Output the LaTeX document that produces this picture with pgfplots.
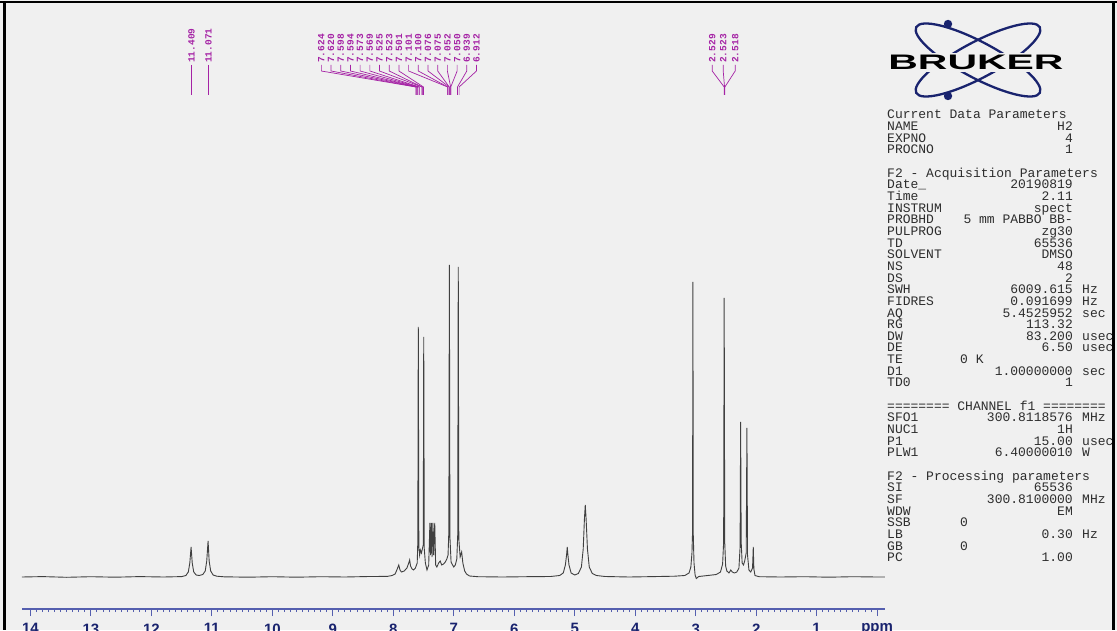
\documentclass[border=0pt]{standalone}
\usepackage{fontspec}
\setmainfont{Liberation Sans}
\newfontfamily\monofont{Liberation Mono}
\usepackage{pgfplots}
\usepackage{pgfplotstable}
\pgfplotsset{compat=1.18}
\definecolor{bg}{RGB}{240,240,240}
\definecolor{navy}{RGB}{25,35,110}
\definecolor{axblue}{RGB}{85,95,175}
\definecolor{labpurple}{RGB}{165,35,165}
\definecolor{partext}{RGB}{45,45,45}

\pgfplotstableread{
ppm h
14.14 0
13.80 0.4
13.40 -0.3
13.00 0.3
12.60 -0.2
12.20 0.4
11.80 0
11.50 0.4
11.43 1.5
11.39 5
11.365 14
11.344 30
11.325 14
11.30 5
11.26 2
11.21 1.5
11.15 2.5
11.11 6
11.085 16
11.063 36
11.045 16
11.02 6
10.98 2
10.92 0.8
10.80 0.2
10.40 -0.2
10.00 0.3
9.60 -0.2
9.20 0.3
8.80 0
8.40 0.5
8.10 0.6
8.02 1.5
7.97 3
7.935 8
7.91 12
7.89 7
7.865 5
7.82 6
7.775 9
7.745 14
7.73 17
7.715 11
7.69 8
7.665 7
7.635 9
7.605 14
7.595 35
7.587 250
7.578 30
7.565 22
7.553 27
7.535 24
7.505 32
7.497 240
7.488 28
7.47 14
7.443 7
7.415 12
7.395 54
7.385 22
7.372 54
7.36 20
7.345 54
7.333 22
7.315 54
7.30 12
7.28 10
7.25 14
7.225 16
7.20 12
7.17 13
7.14 15
7.115 18
7.095 22
7.082 45
7.073 312
7.064 40
7.045 15
7.02 12
7.00 10
6.975 12
6.95 18
6.935 42
6.926 310
6.917 38
6.895 20
6.87 25
6.85 14
6.82 6
6.79 3
6.74 1
6.60 0.3
6.20 0
5.80 0.3
5.40 0.5
5.25 1.5
5.19 4
5.155 12
5.135 22
5.124 30
5.113 22
5.095 12
5.06 4
5.00 2
4.94 3.5
4.89 10
4.86 28
4.84 58
4.826 72
4.812 58
4.79 28
4.76 10
4.71 3.5
4.64 1.5
4.50 0.5
4.10 0
3.70 0.4
3.35 0.8
3.18 1.5
3.11 4
3.08 10
3.062 24
3.052 45
3.046 295
3.040 42
3.028 14
3.01 2
2.99 -1.5
2.95 0.5
2.80 1.5
2.66 2.5
2.59 5
2.555 13
2.538 35
2.529 279
2.520 35
2.505 11
2.485 6
2.45 4
2.42 7
2.395 5
2.36 4
2.32 5
2.285 9
2.266 30
2.257 155
2.248 35
2.232 14
2.21 12
2.19 16
2.165 24
2.153 149
2.143 22
2.12 7
2.09 5
2.06 9
2.048 30
2.038 8
2.02 1.5
1.95 0.3
1.60 0
1.20 0.3
0.80 -0.2
0.40 0.3
0.00 0
-0.13 0
}\spectrum

\newcommand{\pk}[3]{%
  \draw[labpurple,line width=0.7pt] (axis cs:#1,512)--(axis cs:#1,506)--(axis cs:#2,490)--(axis cs:#2,482);
  \node[rotate=90,anchor=west,inner sep=0pt,text=labpurple,font=\monofont\bfseries\fontsize{9.5}{9.5}\selectfont] at (axis cs:#1,514) {#3};%
}

\begin{document}
\begin{tikzpicture}
\path[use as bounding box] (0pt,0pt) rectangle (1117pt,630pt);
\clip (0pt,0pt) rectangle (1117pt,630pt);
\fill[bg] (0pt,0pt) rectangle (1117pt,630pt);
\begin{axis}[
  at={(22pt,21pt)}, anchor=south west,
  scale only axis, width=863pt, height=354pt,
  xmin=-0.13, xmax=14.14, ymin=-32, ymax=322,
  x dir=reverse,
  axis x line=bottom, axis y line=none,
  x axis line style={-, axblue, line width=1.2pt},
  clip=false,
  xtick={0,1,2,3,4,5,6,7,8,9,10,11,12,13,14},
  xticklabels={ppm,1,2,3,4,5,6,7,8,9,10,11,12,13,14},
  minor x tick num=9,
  tick align=outside,
  major tick length=7pt, minor tick length=3pt,
  every tick/.style={axblue, line width=1pt},
  xticklabel style={font=\bfseries\fontsize{15}{15}\selectfont, text=navy, anchor=north, yshift=-4pt},
]
\addplot[black!75, line width=0.9pt] table[x=ppm,y=h] {\spectrum};
\pk{11.339}{11.339}{11.409}
\pk{11.058}{11.058}{11.071}
\pk{9.190}{7.624}{7.624}
\pk{9.030}{7.620}{7.620}
\pk{8.869}{7.598}{7.598}
\pk{8.709}{7.594}{7.594}
\pk{8.549}{7.573}{7.573}
\pk{8.388}{7.569}{7.569}
\pk{8.228}{7.525}{7.525}
\pk{8.068}{7.523}{7.523}
\pk{7.907}{7.501}{7.501}
\pk{7.747}{7.101}{7.101}
\pk{7.587}{7.100}{7.100}
\pk{7.426}{7.076}{7.076}
\pk{7.266}{7.075}{7.075}
\pk{7.106}{7.052}{7.052}
\pk{6.945}{7.050}{7.050}
\pk{6.785}{6.939}{6.939}
\pk{6.625}{6.912}{6.912}
\pk{2.727}{2.529}{2.529}
\pk{2.545}{2.523}{2.523}
\pk{2.347}{2.518}{2.518}
\end{axis}
\begin{scope}[x=1pt,y=1pt]
  % Bruker logo
  \draw[navy, line width=2.3pt, rotate around={-28:(978,570)}] (978,570) ellipse [x radius=70, y radius=18];
  \draw[navy, line width=2.3pt, rotate around={28:(978,570)}] (978,570) ellipse [x radius=70, y radius=18];
  \fill[navy] (948,606) circle (4.2);
  \fill[navy] (948,534) circle (4.2);
  \node[fill=bg, inner xsep=2pt, inner ysep=2pt, xscale=1.95, font=\bfseries\fontsize{21}{21}\selectfont] at (976,567.5) {BRUKER};
  % parameters
  \tikzset{ptx/.style={inner sep=0pt, text=partext, font=\monofont\fontsize{13}{13}\selectfont}}
  \foreach \i/\t in {0/Current Data Parameters, 5/F2 - Acquisition Parameters, 25/======== CHANNEL f1 ========, 31/F2 - Processing parameters}{
    \node[ptx, anchor=base west] at (887, {630-118.8-11.66*\i}) {\t};
  }
  \foreach \i/\a/\b/\c in {1/NAME/H2/{}, 2/EXPNO/4/{}, 3/PROCNO/1/{},
     6/Date\_/20190819/{}, 7/Time/2.11/{}, 8/INSTRUM/spect/{}, 9/PROBHD/5 mm PABBO BB-/{},
     10/PULPROG/zg30/{}, 11/TD/65536/{}, 12/SOLVENT/DMSO/{}, 13/NS/48/{}, 14/DS/2/{},
     15/SWH/6009.615/Hz, 16/FIDRES/0.091699/Hz, 17/AQ/5.4525952/sec, 18/RG/113.32/{},
     19/DW/83.200/usec, 20/DE/6.50/usec, 21/TE/{}/{}, 22/D1/1.00000000/sec, 23/TD0/1/{},
     26/SFO1/300.8118576/MHz, 27/NUC1/1H/{}, 28/P1/15.00/usec, 29/PLW1/6.40000010/W,
     32/SI/65536/{}, 33/SF/300.8100000/MHz, 34/WDW/EM/{}, 35/SSB/{}/{}, 36/LB/0.30/Hz,
     37/GB/{}/{}, 38/PC/1.00/{}}{
    \node[ptx, anchor=base west] at (887, {630-118.8-11.66*\i}) {\a};
    \node[ptx, anchor=base east] at (1073, {630-118.8-11.66*\i}) {\b\strut};
    \node[ptx, anchor=base west] at (1082, {630-118.8-11.66*\i}) {\c\strut};
  }
  \node[ptx, anchor=base west] at (960, {630-118.8-11.66*21}) {0 K};
  \node[ptx, anchor=base west] at (960, {630-118.8-11.66*35}) {0};
  \node[ptx, anchor=base west] at (960, {630-118.8-11.66*37}) {0};
  % frame
  \fill[black] (0,626.5) rectangle (1117,629);
  \fill[black] (3,0) rectangle (5.5,629);
  \fill[black] (1112,0) rectangle (1114.5,629);
\end{scope}
\end{tikzpicture}
\end{document}
